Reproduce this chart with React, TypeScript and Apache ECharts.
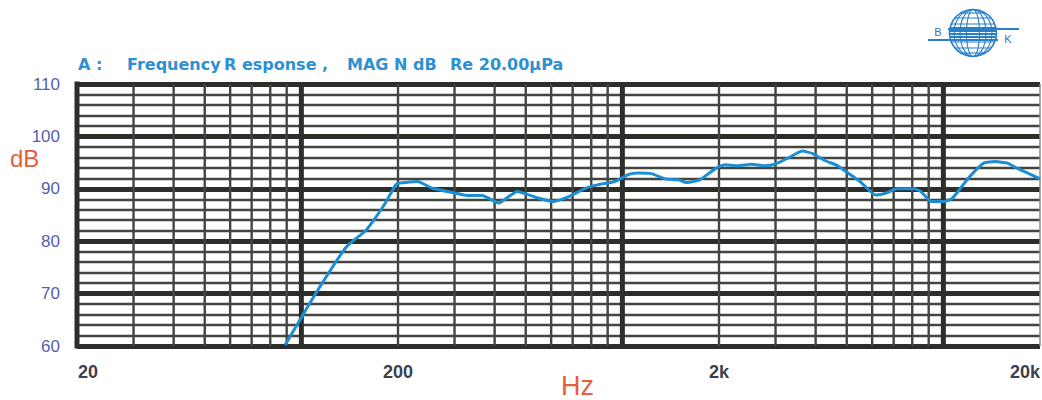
import React, { useEffect, useRef } from "react";
import * as echarts from "echarts";

// Frequency response data (Hz, dB)
const freqs = [89, 110, 138, 159, 181, 197, 203, 230, 256, 295, 332, 366, 412, 470, 549, 611, 681, 767, 843, 949, 1043, 1117, 1231, 1360, 1495, 1584, 1742, 1943, 2085, 2290, 2523, 2778, 2990, 3290, 3640, 3920, 4270, 4690, 5050, 5500, 6150, 6630, 7150, 8110, 8500, 9150, 10090, 10670, 11400, 12100, 13350, 14550, 15830, 17000, 18040, 20000];
const levels = [60.2, 69.7, 78.9, 82.1, 86.9, 90.8, 91.1, 91.4, 90.1, 89.3, 88.7, 88.7, 87.3, 89.5, 88.2, 87.6, 88.5, 90.1, 90.8, 91.4, 92.7, 93.0, 92.9, 91.9, 91.7, 91.2, 91.7, 93.8, 94.6, 94.4, 94.7, 94.4, 94.7, 95.9, 97.2, 96.7, 95.4, 94.4, 93.0, 91.4, 88.8, 89.2, 90.0, 90.0, 89.5, 87.6, 87.6, 88.2, 90.4, 92.4, 94.9, 95.2, 94.9, 93.9, 93.2, 91.9];

// Axis settings
const xMin = 20;
const xMax = 20000;
const yMin = 60;
const yMax = 110;
const yStep = 10;

// Grid lines on the log axis
const minorFreqs = [30, 40, 50, 60, 70, 80, 90, 200, 300, 400, 500, 600, 700, 800, 900, 2000, 3000, 4000, 5000, 6000, 7000, 8000, 9000];
const majorFreqs = [100, 1000, 10000];

// X tick labels
const xTickValues = [20, 200, 2000, 20000];
const xTickLabels = ["20", "200", "2k", "20k"];

// Title pieces
const titleWords = ["A :", "Frequency", "R esponse ,", "MAG N dB", "Re 20.00µPa"];
const titleX = [78, 127, 224, 347, 450];

export default function App() {
  const ref = useRef<HTMLDivElement>(null);

  useEffect(() => {
    const chart = echarts.init(ref.current as HTMLDivElement, null, { renderer: "svg" });

    const gridData: number[][] = [];
    minorFreqs.forEach((f) => gridData.push([f, 85, 0]));
    majorFreqs.forEach((f) => gridData.push([f, 85, 1]));
    gridData.push([xMin, 85, 2]);
    gridData.push([xMax, 85, 3]);

    const globeColor = "#2a7fc9";
    const R = 23.5;
    const logo: any[] = [];
    logo.push({ type: "circle", shape: { cx: 0, cy: 0, r: R }, style: { fill: "none", stroke: globeColor, lineWidth: 1.6 } });
    [6.5, 13, 19].forEach((rx) => {
      logo.push({ type: "ellipse", shape: { cx: 0, cy: 0, rx, ry: R }, style: { fill: "none", stroke: globeColor, lineWidth: 1.1 } });
    });
    [-20, -15, -9, 9, 15, 20].forEach((dy) => {
      const hw = Math.sqrt(R * R - dy * dy);
      logo.push({ type: "line", shape: { x1: -hw, y1: dy, x2: hw, y2: dy }, style: { stroke: globeColor, lineWidth: 1.1 } });
    });
    [-5, -2, 1, 4, 7].forEach((dy) => {
      const hw = Math.sqrt(R * R - dy * dy);
      logo.push({ type: "line", shape: { x1: -hw, y1: dy, x2: hw, y2: dy }, style: { stroke: globeColor, lineWidth: 1.8 } });
    });
    logo.push({ type: "line", shape: { x1: -25, y1: -4, x2: 46, y2: -4 }, style: { stroke: globeColor, lineWidth: 2.2 } });
    logo.push({ type: "line", shape: { x1: -45, y1: 7, x2: 25, y2: 7 }, style: { stroke: globeColor, lineWidth: 2.2 } });

    chart.setOption({
      animation: false,
      backgroundColor: "#ffffff",
      grid: { left: 77, right: 2, top: 84, bottom: 54, containLabel: false },
      xAxis: {
        type: "log",
        logBase: 10,
        min: xMin,
        max: xMax,
        axisLine: { show: false },
        axisTick: { show: false },
        axisLabel: { show: false },
        splitLine: { show: false },
      },
      yAxis: {
        type: "value",
        min: yMin,
        max: yMax,
        interval: yStep,
        axisLine: { show: false },
        axisTick: { show: false },
        axisLabel: {
          color: "#5660ac",
          fontSize: 17,
          fontFamily: "Liberation Sans, Arial, sans-serif",
          margin: 17,
        },
        splitLine: { show: true, lineStyle: { color: "#2d2d29", width: 5 } },
        minorTick: { show: false, splitNumber: 5 },
        minorSplitLine: { show: true, lineStyle: { color: "#45453f", width: 2.4 } },
      },
      graphic: [
        ...titleWords.map((w, i) => ({
          type: "text",
          left: titleX[i],
          top: 56,
          style: {
            text: w,
            fill: "#2e8fd3",
            font: "bold 16px 'DejaVu Sans', sans-serif",
          },
        })),
        {
          type: "text",
          left: 10,
          top: 146,
          style: { text: "dB", fill: "#e85d3d", font: "24px 'Liberation Sans', Arial, sans-serif" },
        },
        {
          type: "text",
          left: 561,
          top: 372,
          style: { text: "Hz", fill: "#e85d3d", font: "27px 'Liberation Sans', Arial, sans-serif" },
        },
        {
          type: "group",
          x: 973,
          y: 33,
          children: logo,
        },
        {
          type: "text",
          x: 938,
          y: 32,
          style: { text: "B", fill: "#3d6fc2", font: "11px 'Liberation Sans', Arial, sans-serif", align: "center", verticalAlign: "middle" },
        },
        {
          type: "text",
          x: 1008,
          y: 39,
          style: { text: "K", fill: "#3d6fc2", font: "11px 'Liberation Sans', Arial, sans-serif", align: "center", verticalAlign: "middle" },
        },
      ],
      series: [
        {
          type: "custom",
          name: "grid",
          silent: true,
          clip: false,
          z: 1,
          encode: { x: 0, y: 1 },
          data: gridData,
          renderItem: (params: any, api: any) => {
            const f = api.value(0);
            const kind = api.value(2);
            const top = api.coord([f, yMax]);
            const bot = api.coord([f, yMin]);
            const ext = kind === 2 ? 2.5 : 0;
            const width = kind === 0 ? 2.4 : kind === 3 ? 1.5 : 5;
            const color = kind === 0 ? "#45453f" : kind === 3 ? "#8a8a86" : "#2d2d29";
            return {
              type: "line",
              shape: { x1: top[0], y1: top[1] - ext, x2: bot[0], y2: bot[1] + ext },
              style: { stroke: color, lineWidth: width },
            };
          },
        },
        {
          type: "custom",
          name: "xlabels",
          silent: true,
          clip: false,
          z: 2,
          encode: { x: 0, y: 1 },
          data: xTickValues.map((v) => [v, yMin]),
          renderItem: (params: any, api: any) => {
            const idx = params.dataIndex;
            const p = api.coord([api.value(0), yMin]);
            const align = idx === 0 ? "left" : idx === xTickValues.length - 1 ? "right" : "center";
            return {
              type: "text",
              x: p[0] + (idx === 0 ? 1 : 0),
              y: p[1] + 26,
              style: {
                text: xTickLabels[idx],
                fill: "#3c3f50",
                font: "bold 18px 'Liberation Sans', Arial, sans-serif",
                align,
                verticalAlign: "middle",
              },
            };
          },
        },
        {
          type: "line",
          name: "Frequency Response",
          data: freqs.map((f, i) => [f, levels[i]]),
          showSymbol: false,
          symbol: "none",
          smooth: 0.15,
          clip: true,
          z: 5,
          lineStyle: { color: "#1b8fd6", width: 3 },
        },
      ],
    });

    return () => chart.dispose();
  }, []);

  return (
    <div
      ref={ref}
      style={{ position: "fixed", left: 0, top: 0, width: 1042, height: 400, background: "#fff" }}
    />
  );
}
